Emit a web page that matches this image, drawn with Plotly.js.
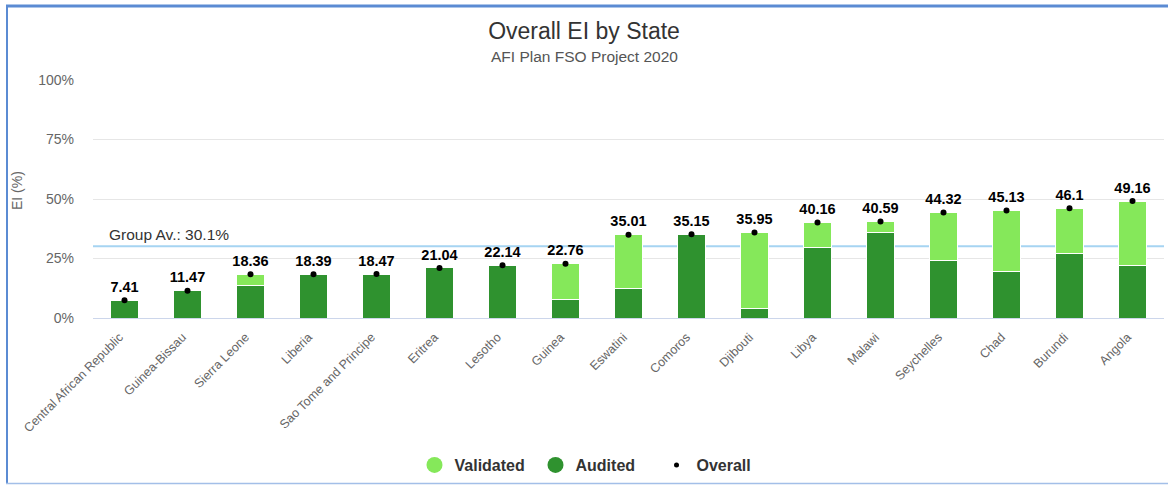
<!DOCTYPE html>
<html>
<head>
<meta charset="utf-8">
<script src="https://cdn.plot.ly/plotly-3.0.1.min.js"></script>
<style>
html,body{margin:0;padding:0;background:#fff;}
#chart{width:1168px;height:485px;}
</style>
</head>
<body>
<div id="chart"></div>
<script>
var states = ["Central African Republic","Guinea-Bissau","Sierra Leone","Liberia","Sao Tome and Principe","Eritrea","Lesotho","Guinea","Eswatini","Comoros","Djibouti","Libya","Malawi","Seychelles","Chad","Burundi","Angola"];
var overall = [7.41,11.47,18.36,18.39,18.47,21.04,22.14,22.76,35.01,35.15,35.95,40.16,40.59,44.32,45.13,46.1,49.16];
var audited = [7.41,11.47,13.8,18.39,18.47,21.04,22.14,7.6,12.6,35.15,4.0,29.7,35.9,24.0,19.4,27.3,21.9];
var validated = [0,0,4.56,0,0,0,0,15.16,22.41,0,31.95,10.46,4.69,20.32,25.73,18.8,27.26];
var groupAverage = 30.1;
var yTicks = [0,25,50,75,100];
var yTickLabels = ["0%","25%","50%","75%","100%"];

var darkGreen = "#2f922f";
var lightGreen = "#85e85a";
var font = "Liberation Sans, Arial, Helvetica, sans-serif";

var traces = [
  {type:"bar", name:"Audited", x:states, y:audited, marker:{color:darkGreen, line:{color:"#ffffff", width:1}}, showlegend:false, hoverinfo:"y"},
  {type:"bar", name:"Validated", x:states, y:validated, marker:{color:lightGreen, line:{color:"#ffffff", width:1}}, showlegend:false, hoverinfo:"y"},
  {type:"scatter", mode:"markers+text", name:"Overall", x:states, y:overall, marker:{color:"#000000", size:6},
   text:overall.map(String), textposition:"top center", textfont:{family:font, size:14.5, color:"#000000", weight:"bold"}, showlegend:false, cliponaxis:false},
  {type:"scatter", mode:"markers", name:"Validated", x:[states[0]], y:[null], marker:{color:lightGreen, size:16, symbol:"circle"}, showlegend:true},
  {type:"scatter", mode:"markers", name:"Audited", x:[states[0]], y:[null], marker:{color:darkGreen, size:16, symbol:"circle"}, showlegend:true},
  {type:"scatter", mode:"markers", name:"Overall", x:[states[0]], y:[null], marker:{color:"#000000", size:5, symbol:"circle"}, showlegend:true}
];

function px(x){ return (x-93)/1071; }
function py(y){ return (318-y)/238; }

var layout = {
  width:1168, height:485,
  margin:{l:93, r:4, t:80, b:167},
  paper_bgcolor:"#ffffff", plot_bgcolor:"#ffffff",
  font:{family:font, color:"#333333"},
  barmode:"stack", bargap:0.555,
  title:{text:"Overall EI by State", font:{family:font, size:23, color:"#333333"}, xref:"container", x:0.5, xanchor:"center", yref:"container", y:1-31/485, yanchor:"middle"},
  xaxis:{type:"category", range:[-0.5, states.length-0.5], tickangle:-45, tickfont:{family:font, size:12.5, color:"#666666"}, showgrid:false, showline:true, linecolor:"#ccd6eb", linewidth:1, ticks:"", ticklabelstandoff:6, ticklabelshift:-5, fixedrange:true},
  yaxis:{range:[0,100], tickvals:yTicks, ticktext:yTickLabels, tickfont:{family:font, size:14, color:"#666666"}, gridcolor:"#e6e6e6", gridwidth:1, zeroline:false, ticks:"", ticklabelstandoff:18, fixedrange:true},
  legend:{orientation:"h", traceorder:"normal", entrywidth:76, xref:"container", x:596/1168, xanchor:"center", yref:"container", y:1-465/485, yanchor:"middle", font:{family:font, size:16, color:"#333333", weight:"bold"}, itemclick:false, itemdoubleclick:false},
  shapes:[
    {type:"line", xref:"paper", x0:0, x1:1, yref:"y", y0:groupAverage, y1:groupAverage, line:{color:"#a6d4f2", width:2}, layer:"between"},
    {type:"line", xref:"paper", yref:"paper", x0:px(6), x1:px(1170), y0:py(6), y1:py(6), line:{color:"#5b8bd3", width:3}},
    {type:"line", xref:"paper", yref:"paper", x0:px(7), x1:px(7), y0:py(5), y1:py(484), line:{color:"#5b8bd3", width:2}},
    {type:"line", xref:"paper", yref:"paper", x0:px(6), x1:px(1170), y0:py(483.5), y1:py(483.5), line:{color:"#a3bfe8", width:1.5}}
  ],
  annotations:[
    {text:"AFI Plan FSO Project 2020", xref:"paper", x:px(584), xanchor:"center", yref:"paper", y:py(57), yanchor:"middle", showarrow:false, font:{family:font, size:15.5, color:"#555555"}},
    {text:"Group Av.: 30.1%", xref:"paper", x:px(107), xanchor:"left", yref:"y", y:groupAverage, yanchor:"bottom", yshift:1, showarrow:false, font:{family:font, size:15.5, color:"#333333"}},
    {text:"EI (%)", xref:"paper", x:px(17), xanchor:"center", yref:"paper", y:py(191), yanchor:"middle", textangle:-90, showarrow:false, font:{family:font, size:14, color:"#666666"}}
  ]
};

Plotly.newPlot("chart", traces, layout, {displayModeBar:false, staticPlot:true});
</script>
</body>
</html>
